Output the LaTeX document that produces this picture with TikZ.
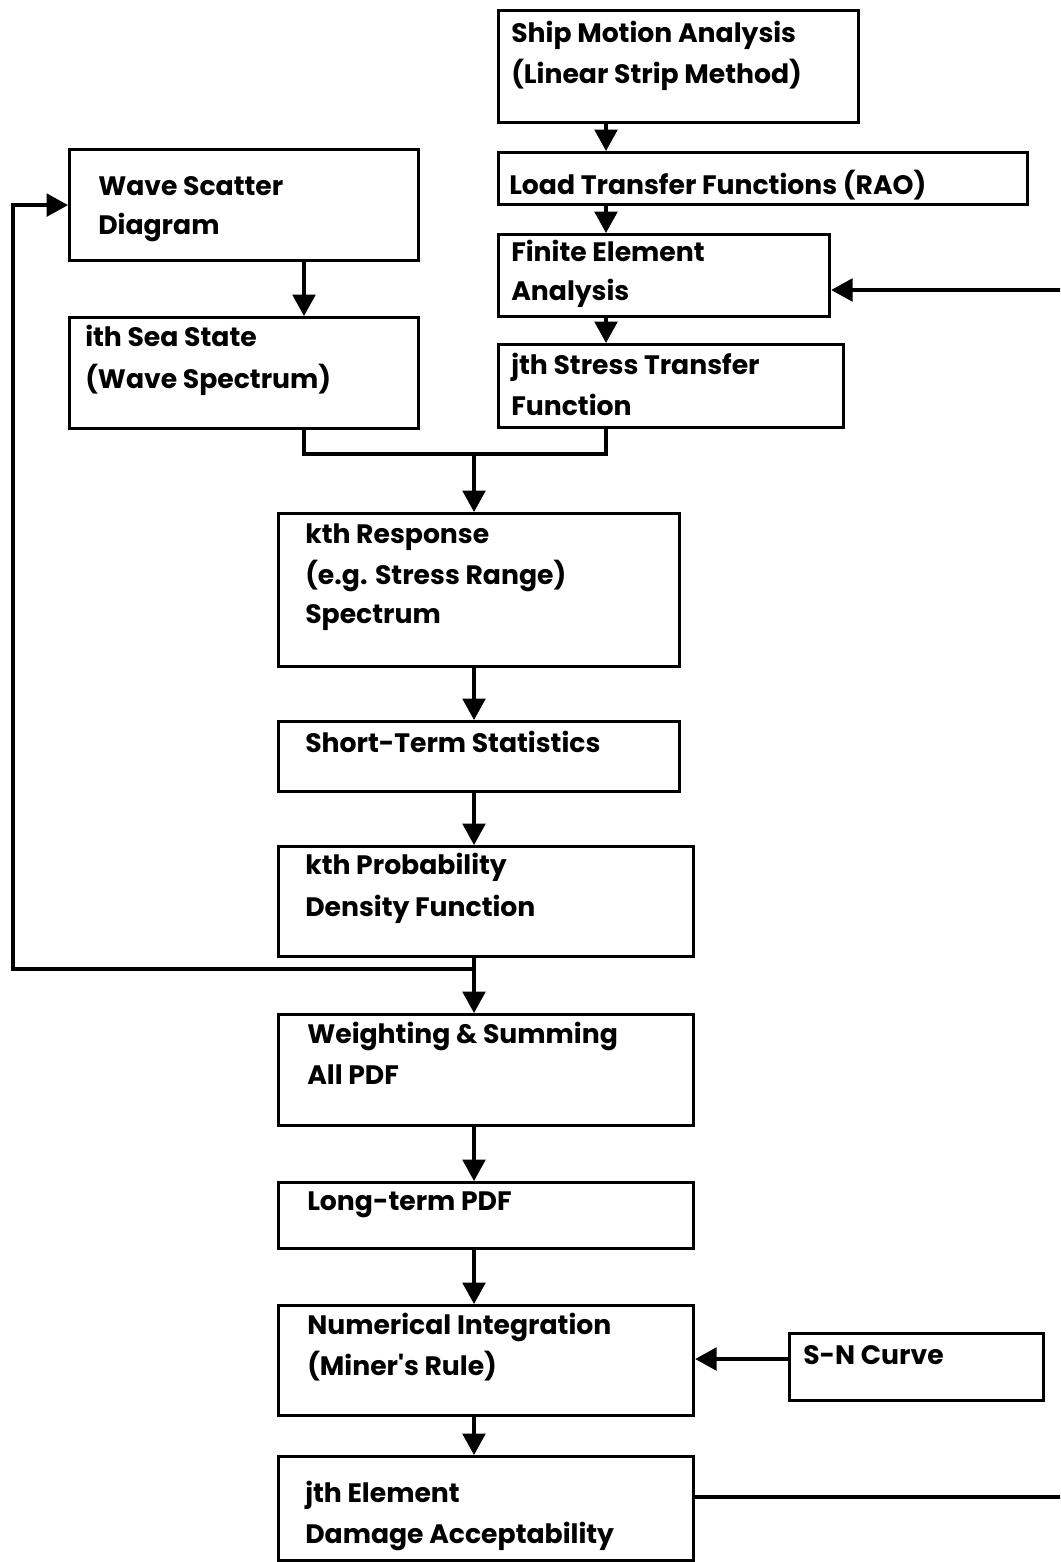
\documentclass[tikz,border=0pt]{standalone}
\usepackage{fontspec}
\newfontfamily\pf{Poppins}
\usetikzlibrary{arrows.meta}
\begin{document}
\begin{tikzpicture}[x=0.75pt,y=-0.75pt,
  box/.style={draw, line width=2.4pt, rectangle, inner sep=0pt},
  txt/.style={anchor=base west, inner sep=0pt, font=\pf\bfseries\fontsize{20}{24}\selectfont},
  link/.style={line width=2.4pt},
  arr/.style={line width=2.4pt, -{Triangle[width=17pt,length=16pt]}}]
\clip (0,0) rectangle (1060,1562);
\newcommand\mybox[5]{\node[box, minimum width={(#4-#2)*0.75pt}, minimum height={(#5-#3)*0.75pt}, anchor=north west] (#1) at (#2,#3) {};}
% boxes
\mybox{SM}{497}{9}{857}{121}
\mybox{LT}{497}{151}{1026}{203}
\mybox{FE}{497}{233}{828}{315}
\mybox{ST}{497}{343}{842}{426}
\mybox{WS}{68}{148}{417}{259}
\mybox{SS}{68}{316}{417}{427}
\mybox{KR}{277}{512}{678}{665}
\mybox{SH}{277}{720}{678}{790}
\mybox{KP}{277}{845}{692}{955}
\mybox{WG}{277}{1013}{692}{1124}
\mybox{LP}{277}{1181}{692}{1247}
\mybox{NI}{277}{1304}{692}{1414}
\mybox{SN}{788}{1332}{1042}{1399}
\mybox{JE}{277}{1455}{692}{1559}
% texts
\node[txt] (SMa) at (511,43) {Ship Motion Analysis};
\node[txt] (SMb) at (511,84) {(Linear Strip Method)};
\node[txt] (LTa) at (509,195) {Load Transfer Functions (RAO)};
\node[txt] (FEa) at (511,262) {Finite Element};
\node[txt] (FEb) at (511,300) {Analysis};
\node[txt] (STa) at (511,374) {jth Stress Transfer};
\node[txt] (STb) at (511,415) {Function};
\node[txt] (WSa) at (98,196) {Wave Scatter};
\node[txt] (WSb) at (98,235) {Diagram};
\node[txt] (SSa) at (85,346) {ith Sea State};
\node[txt] (SSb) at (85,388) {(Wave Spectrum)};
\node[txt] (KRa) at (305,543) {kth Response};
\node[txt] (KRb) at (305,584) {(e.g. Stress Range)};
\node[txt] (KRc) at (305,623) {Spectrum};
\node[txt] (SHa) at (305,752) {Short-Term Statistics};
\node[txt] (KPa) at (305,874) {kth Probability};
\node[txt] (KPb) at (305,916) {Density Function};
\node[txt] (WGa) at (307,1043) {Weighting \& Summing};
\node[txt] (WGb) at (307,1084) {All PDF};
\node[txt] (LPa) at (307,1210) {Long-term PDF};
\node[txt] (NIa) at (307,1334) {Numerical Integration};
\node[txt] (NIb) at (307,1375) {(Miner's Rule)};
\node[txt] (JEa) at (305,1502) {jth Element};
\node[txt] (JEb) at (305,1543) {Damage Acceptability};
\node[txt] (SNa) at (803,1364) {S-N Curve};
% helper coordinates
\coordinate (cx) at (474,0);
\coordinate (rx) at (606,0);
\coordinate (wx) at (304,0);
\coordinate (jn) at (0,454);
\coordinate (fb) at (0,969);
\coordinate (lx) at (13,0);
\coordinate (Rt) at (1068,0);
% connectors
\draw[arr] (SM.south-|rx) -- (LT.north-|rx);
\draw[arr] (LT.south-|rx) -- (FE.north-|rx);
\draw[arr] (FE.south-|rx) -- (ST.north-|rx);
\draw[arr] (WS.south-|wx) -- (SS.north-|wx);
\draw[link] (SS.south-|wx) |- (jn-|cx) -| (ST.south-|rx);
\draw[arr] (jn-|cx) -- (KR.north-|cx);
\draw[arr] (KR.south-|cx) -- (SH.north-|cx);
\draw[arr] (SH.south-|cx) -- (KP.north-|cx);
\draw[arr] (KP.south-|cx) -- (WG.north-|cx);
\draw[arr] (fb-|cx) -| (lx|-WS.west) -- (WS.west);
\draw[arr] (WG.south-|cx) -- (LP.north-|cx);
\draw[arr] (LP.south-|cx) -- (NI.north-|cx);
\draw[arr] (NI.south-|cx) -- (JE.north-|cx);
\coordinate (sny) at (0,1359);
\draw[arr] (SN.west|-sny) -- (NI.east|-sny);
\coordinate (jey) at (0,1497);
\coordinate (fey) at (0,290);
\draw[arr] (JE.east|-jey) -- (Rt|-jey) -- (Rt|-fey) -- (FE.east|-fey);
\end{tikzpicture}
\end{document}
